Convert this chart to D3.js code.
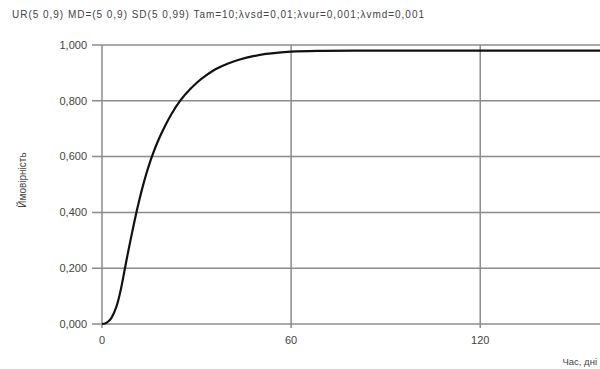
<!DOCTYPE html>
<html>
<head>
<meta charset="utf-8">
<style>
  body { margin: 0; background: #fff; }
  svg text { font-family: "Liberation Sans", Arial, sans-serif; fill: #444; }
</style>
</head>
<body>
<div class="chart"></div>
<script src="https://d3js.org/d3.v7.min.js"></script>
<script>
  // дані
  const days = [0, 1, 2, 3, 4, 5, 6, 7, 8, 9, 10, 11, 12, 13, 14, 15, 16, 18, 20, 22, 25, 28, 30, 33, 36, 40, 44, 48, 52, 56, 60, 70, 80, 100, 130, 158]
  const prob = [0, 0.002, 0.009, 0.022, 0.045, 0.078, 0.125, 0.183, 0.242, 0.298, 0.352, 0.404, 0.452, 0.496, 0.536, 0.572, 0.605, 0.662, 0.71, 0.752, 0.803, 0.842, 0.864, 0.891, 0.913, 0.934, 0.949, 0.96, 0.968, 0.973, 0.976, 0.979, 0.98, 0.98, 0.98, 0.98]
  const xTicks = [0, 60, 120]
  const yTicks = [0, 0.2, 0.4, 0.6, 0.8, 1]
  const title = 'UR(5 0,9)  MD=(5 0,9) SD(5 0,99) Tam=10;λvsd=0,01;λvur=0,001;λvmd=0,001'
  const yLabel = 'Ймовірність'
  const xLabel = 'Час, дні'

  const width = 600, height = 369
  const gridColor = '#8c8c8c'

  const svg = d3.select('.chart')
                .append('svg')
                .attr('width', width)
                .attr('height', height)

  const xScale = d3.scaleLinear()
                   .domain([0, 158])
                   .range([102, 600])

  const yScale = d3.scaleLinear()
                   .domain([0, 1])
                   .range([324, 45])

  // горизонтальна сітка
  svg.append('g')
     .selectAll('line')
     .data(yTicks)
     .join('line')
     .attr('x1', xScale(0) - 10)
     .attr('x2', width)
     .attr('y1', d => yScale(d))
     .attr('y2', d => yScale(d))
     .attr('stroke', gridColor)
     .attr('stroke-width', 1.5)

  // вертикальна сітка
  svg.append('g')
     .selectAll('line')
     .data(xTicks)
     .join('line')
     .attr('x1', d => xScale(d))
     .attr('x2', d => xScale(d))
     .attr('y1', yScale(1))
     .attr('y2', yScale(0) + 4)
     .attr('stroke', gridColor)
     .attr('stroke-width', 1.5)

  // підписи осі Y
  const fmt = d => d3.format('.3f')(d).replace('.', ',')
  svg.append('g')
     .selectAll('text')
     .data(yTicks)
     .join('text')
     .attr('x', xScale(0) - 15)
     .attr('y', d => yScale(d))
     .attr('dy', '0.35em')
     .attr('text-anchor', 'end')
     .style('font-size', '11px')
     .text(fmt)

  // підписи осі X
  svg.append('g')
     .selectAll('text')
     .data(xTicks)
     .join('text')
     .attr('x', d => xScale(d))
     .attr('y', 344)
     .attr('text-anchor', 'middle')
     .style('font-size', '11px')
     .text(d => d)

  // крива
  const line = d3.line()
                 .x((d, i) => xScale(days[i]))
                 .y(d => yScale(d))
                 .curve(d3.curveMonotoneX)

  svg.append('path')
     .datum(prob)
     .attr('fill', 'none')
     .attr('stroke', '#111')
     .attr('stroke-width', 2.2)
     .attr('d', line)

  // заголовок та назви осей
  svg.append('text')
     .attr('x', 12)
     .attr('y', 18)
     .attr('textLength', 412)
     .attr('lengthAdjust', 'spacing')
     .style('font-size', '10px')
     .text(title)

  svg.append('text')
     .attr('transform', 'translate(26,180) rotate(-90)')
     .attr('text-anchor', 'middle')
     .style('font-size', '10px')
     .text(yLabel)

  svg.append('text')
     .attr('x', 597)
     .attr('y', 365)
     .attr('text-anchor', 'end')
     .style('font-size', '9.5px')
     .text(xLabel)
</script>
</body>
</html>
